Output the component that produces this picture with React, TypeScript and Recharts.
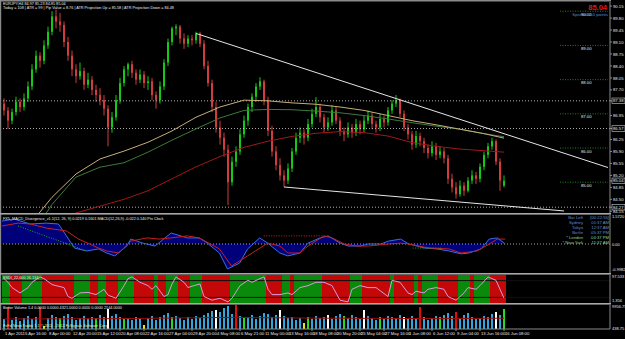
import React from 'react';
import { ComposedChart, Bar, Line, Area, XAxis, YAxis, ReferenceLine, Cell } from 'recharts';

// ---------------- DATA ----------------
const opens = [87.30,87.10,86.80,87.05,87.35,87.20,87.45,87.80,88.30,88.70,88.55,89.00,89.40,89.85,89.70,89.60,89.10,88.70,88.30,88.10,88.25,87.85,88.00,87.70,87.55,87.40,87.15,86.60,86.90,87.40,87.90,88.30,88.45,88.20,88.00,88.15,87.90,87.95,87.55,87.40,87.80,88.50,89.10,89.50,89.55,89.20,89.05,89.20,89.15,89.35,89.05,88.40,87.90,87.20,86.60,86.30,85.95,85.00,85.60,85.90,86.40,86.80,87.20,87.50,87.80,87.95,87.40,86.50,85.90,85.50,85.20,85.05,85.40,85.90,86.30,86.45,86.30,86.70,87.00,87.20,86.90,86.60,86.75,87.10,86.80,86.50,86.40,86.60,86.45,86.70,86.55,86.80,86.95,86.70,86.60,86.85,86.75,87.10,87.30,87.40,87.00,86.60,86.40,86.10,86.35,86.20,86.00,85.85,86.05,85.80,85.90,85.70,85.10,84.85,84.65,84.90,84.75,85.05,85.20,85.10,85.45,85.80,86.05,86.20,85.60,84.90];
const highs = [87.45,87.20,87.15,87.50,87.45,87.60,87.95,88.45,88.85,88.80,89.15,89.55,90.00,90.05,89.95,89.70,89.25,88.85,88.45,88.50,88.35,88.20,88.10,87.85,87.75,87.55,87.25,87.05,87.55,88.05,88.40,88.50,88.55,88.30,88.30,88.25,88.10,88.05,87.65,87.95,88.60,89.20,89.55,89.62,89.60,89.35,89.30,89.30,89.40,89.40,89.15,88.55,88.00,87.35,86.80,86.45,86.10,85.75,86.05,86.55,86.95,87.30,87.60,87.90,88.07,88.00,87.50,86.65,86.05,85.70,85.35,85.55,86.00,86.45,86.60,86.55,86.85,87.15,87.49,87.30,87.00,86.90,87.25,87.20,86.90,86.60,86.75,86.70,86.85,86.80,86.95,87.10,87.05,86.80,87.00,86.95,87.20,87.40,87.55,87.45,87.10,86.70,86.50,86.50,86.45,86.30,86.10,86.20,86.15,86.05,86.00,85.80,85.25,85.00,85.05,85.00,85.15,85.35,85.30,85.55,85.90,86.15,86.30,86.25,85.70,85.20];
const lows = [86.95,86.55,86.70,86.95,87.05,87.10,87.35,87.70,88.20,88.35,88.45,88.90,89.30,89.50,89.40,88.95,88.55,88.10,87.90,88.00,87.70,87.75,87.55,87.35,87.25,86.95,86.05,86.45,86.80,87.30,87.80,88.10,88.05,87.85,87.90,87.75,87.70,87.40,87.15,87.30,87.70,88.40,89.00,89.30,89.05,88.90,88.95,89.00,89.05,88.95,88.30,87.80,87.05,86.45,86.10,85.75,84.33,84.90,85.45,85.80,86.30,86.65,87.05,87.35,87.70,87.25,86.35,85.75,85.35,85.05,84.86,84.95,85.30,85.80,86.15,86.10,86.20,86.60,86.90,86.75,86.45,86.50,86.65,86.70,86.35,86.20,86.30,86.30,86.35,86.40,86.45,86.70,86.55,86.45,86.50,86.60,86.65,87.00,87.20,86.90,86.50,86.25,85.95,86.00,86.05,85.85,85.70,85.75,85.65,85.70,85.55,84.95,84.70,84.52,84.58,84.60,84.70,84.95,84.95,85.00,85.35,85.70,85.95,85.50,84.75,84.85];
const closes = [87.10,86.80,87.05,87.35,87.20,87.45,87.80,88.30,88.70,88.55,89.00,89.40,89.85,89.70,89.60,89.10,88.70,88.30,88.10,88.25,87.85,88.00,87.70,87.55,87.40,87.15,86.60,86.90,87.40,87.90,88.30,88.45,88.20,88.00,88.15,87.90,87.95,87.55,87.40,87.80,88.50,89.10,89.50,89.55,89.20,89.05,89.20,89.15,89.35,89.05,88.40,87.90,87.20,86.60,86.30,85.95,85.00,85.60,85.90,86.40,86.80,87.20,87.50,87.80,87.95,87.40,86.50,85.90,85.50,85.20,85.05,85.40,85.90,86.30,86.45,86.30,86.70,87.00,87.20,86.90,86.60,86.75,87.10,86.80,86.50,86.40,86.60,86.45,86.70,86.55,86.80,86.95,86.70,86.60,86.85,86.75,87.10,87.30,87.40,87.00,86.60,86.40,86.10,86.35,86.20,86.00,85.85,86.05,85.80,85.90,85.70,85.10,84.85,84.65,84.90,84.75,85.05,85.20,85.10,85.45,85.80,86.05,86.20,85.60,85.05,85.04];

// moving averages, read at sampled bars
const maIdx = [0,6,12,18,24,30,36,42,48,54,60,66,72,78,84,90,96,102,108,114,120,125];
const maTan = [82.9,83.7,84.56,85.24,85.68,85.91,86.17,86.50,86.90,87.20,87.40,87.38,87.32,87.28,87.20,87.10,86.95,86.80,86.68,86.55,86.42,86.29];
const maGreen = [82.3,83.3,84.35,85.15,85.44,85.57,85.88,86.23,86.56,86.88,87.10,87.13,87.12,87.08,87.03,86.95,86.85,86.74,86.64,86.55,86.42,86.33];
const maRed = [83.5,83.7,83.9,84.1,84.30,84.50,84.75,85.10,85.45,85.75,86.02,86.20,86.34,86.43,86.48,86.45,86.35,86.16,86.05,85.97,85.92,85.88];

// trend lines (bar index, price)
const tlUpIdx = [48,151];
const tlUpVals = [89.35,85.43];
const tlLowIdx = [70,140];
const tlLowVals = [84.86,84.16];

const priceTicks = [90.15,89.80,89.45,89.10,88.75,88.40,88.05,87.70,87.38,86.95,86.57,86.25,85.90,85.55,85.20,85.04,84.85,84.50,84.27,84.15];
const boxedTicks = [87.38,86.57,85.04,84.27];
const dottedLevels = [87.38,86.57,84.27];
const roundLevels = [90,89,88,87,86,85];
const roundLabels = ['90.00','89.00','88.00','87.00','86.00','85.00'];

// MACD
const macdIdx = [0,3,7,11,14,16,18,21,24,26,28,31,32,35,38,42,46,49,51,54,56,59,61,64,66,69,71,74,76,79,81,84,86,89,91,94,96,99,101,105,108,111,114,116,119,121,123,125];
const macdVals = [0.79,0.86,0.69,0.72,0.69,0.28,-0.14,-0.24,-0.17,-0.31,-0.41,-0.07,0.17,0.03,-0.07,0.38,0.21,0.21,0.03,-0.31,-0.86,-0.66,-0.17,0.21,0.03,-0.31,-0.41,-0.31,0.03,0.21,0.28,0.03,-0.07,-0.07,0,0,0.10,0.17,0,-0.14,-0.17,-0.24,-0.34,-0.31,-0.17,0.17,0.21,0.0];
const sigIdx = [0,4,7,11,16,19,24,26,29,32,36,39,42,46,49,54,57,61,66,69,71,74,76,80,82,85,88,91,96,99,101,106,111,114,118,121,123,125];
const sigVals = [0.62,0.72,0.69,0.55,0.45,0.17,-0.14,-0.24,-0.31,0.10,0.21,0.17,0.21,0.28,0.21,-0.17,-0.76,-0.41,0.03,-0.07,-0.31,-0.31,-0.07,0.28,0.21,0,-0.07,-0.07,0,0.03,0,-0.14,-0.17,-0.31,-0.24,0,0.17,0.17];
const divGreenIdx = [4,21];
const divGreenVals = [0.62,-0.24];
const divRedIdx = [65,80];
const divRedVals = [0.28,0.28];
const divGreen2Idx = [102,109];
const divGreen2Vals = [-0.14,-0.14];

// Stochastic
const stIdx = [0,1,2,4,6,7,9,10,12,13,15,16,17,19,21,23,25,26,28,30,31,32,34,36,37,38,40,41,42,43,45,46,47,49,50,52,54,56,57,59,61,62,64,65,66,67,69,71,72,74,76,78,80,82,84,86,87,89,91,93,96,97,99,101,102,103,105,106,108,110,111,113,115,116,118,119,121,123,125];
const stVals = [87,74,55,36,55,74,93,87,66,62,55,23,17,36,38,30,49,28,17,62,87,93,74,62,49,62,23,30,68,93,74,55,60,68,23,10,17,4,17,62,81,74,87,93,49,30,30,36,30,55,62,74,74,62,10,4,49,62,55,55,23,81,74,36,30,42,36,49,55,49,23,10,36,55,49,62,93,81,17];
const bandStart = [0,2,5,10,18,22,24,26,29,33,38,39,41,44,47,50,57,66,70,72,73,80,87,90,97,98,103,104,105,109,114,117,118,122];
const bandColor = ['g','r','g','r','g','r','g','r','g','r','g','r','g','r','g','r','g','r','g','r','g','r','g','r','g','r','g','r','g','r','g','r','g','r'];

// Volume
const volumes = [2500,5500,2250,3000,2000,2750,3250,2500,3000,5500,
  750,2750,3500,3000,2750,3250,3750,3000,2250,2750,
  3250,2500,3000,2750,3500,3000,5000,3250,3750,3000,
  2500,2750,2250,3000,2500,1000,2750,3250,2250,3000,
  3500,4000,3000,3250,2750,2250,3000,2500,3250,2750,
  3500,4000,4500,4750,4250,5250,5750,3750,6000,3250,
  2750,3000,3500,2500,3250,4000,3750,3000,3500,4750,
  3250,2750,3000,2250,2750,1500,3000,2500,3250,2750,
  3000,3500,2500,3250,3750,3250,2750,3500,3000,2500,
  4750,3250,2750,2250,3000,2500,3250,3000,2750,3500,
  3000,2500,3250,2750,5500,3000,2250,2750,3250,3000,
  3500,4000,3250,4250,2750,3500,4000,3000,2500,2750,
  3250,3000,3750,4250,3500,5000];
const volRed = [1,9,58,104,113];
const volWhite = [26,53,69,81,90,100,123];
const volGreen = [14,23,30,42,60,76,85,94,109,125];
const volYellow = [10,35,75];
const volAvgIdx = [0,30,56,80,110,125];
const volAvgVals = [2500,2600,2900,2700,2600,2700];

// time axis
const timeTickIdx = [0,5,11,17,23,29,35,41,47,53,59,65,71,77,83,89,95,101,107,113,119,125];
const timeTickLabels = ['1 Apr 2011','5 Apr 16:00','8 Apr 00:00','12 Apr 20:00','15 Apr 12:00','20 Apr 08:00','22 Apr 16:00','27 Apr 04:00','29 Apr 20:00','4 May 08:00','6 May 21:00','11 May 00:00','13 May 16:00','18 May 08:00','20 May 20:00','25 May 04:00','27 May 16:00','1 Jun 08:00','6 Jun 12:00','9 Jun 04:00','13 Jun 16:00','16 Jun 08:00'];

// ---------------- TABLE ----------------
const SHIFT = 26;
const N = closes.length;
const TOTAL = N + SHIFT;

function sparse(idx: number[], vals: number[]) {
  const out: (number | null)[] = new Array(TOTAL).fill(null);
  idx.forEach((k, j) => { out[k] = vals[j]; });
  return out;
}
const tanS = sparse(maIdx, maTan);
const greenS = sparse(maIdx, maGreen);
const redS = sparse(maIdx, maRed);
const tlUpS = sparse(tlUpIdx, tlUpVals);
const tlLowS = sparse(tlLowIdx, tlLowVals);
const macdS = sparse(macdIdx, macdVals);
const sigS = sparse(sigIdx, sigVals);
const dgS = sparse(divGreenIdx, divGreenVals);
const drS = sparse(divRedIdx, divRedVals);
const dg2S = sparse(divGreen2Idx, divGreen2Vals);
const stS = sparse(stIdx, stVals);
const avgS = sparse(volAvgIdx, volAvgVals);

function bandOf(i: number) {
  if (i >= N) return null;
  let c = null as string | null;
  for (let j = 0; j < bandStart.length; j++) if (i >= bandStart[j]) c = bandColor[j];
  return c;
}
function volColor(i: number) {
  if (volRed.includes(i)) return '#e01010';
  if (volWhite.includes(i)) return '#ffffff';
  if (volGreen.includes(i)) return '#22dd22';
  if (volYellow.includes(i)) return '#e8e800';
  return '#2ea6de';
}

const rows = Array.from({ length: TOTAL }, (_, i) => ({
  i,
  o: i < N ? opens[i] : null,
  h: i < N ? highs[i] : null,
  l: i < N ? lows[i] : null,
  c: i < N ? closes[i] : null,
  range: i < N ? [lows[i], highs[i]] : null,
  tan: tanS[i], grn: greenS[i], red: redS[i],
  tlUp: tlUpS[i], tlLow: tlLowS[i],
  macd: macdS[i], sig: sigS[i], dg: dgS[i], dr: drS[i], dg2: dg2S[i],
  st: stS[i], band: i < N ? 100 : null,
  vol: i < N ? volumes[i] : null, avg: avgS[i],
}));

// ---------------- STYLE ----------------
const FONT = 'Liberation Sans, Arial, sans-serif';
const GRID = '#8a8a8a';
const UP = '#14c814';
const DOWN = '#d23c3c';
const MARGIN = { top: 0, right: 1, left: 2, bottom: 0 };

const Candle = (props: any) => {
  const { x, y, width, height, payload } = props;
  if (!payload || payload.o == null || height == null) return <g />;
  const { o, h, l, c } = payload;
  const k = h - l > 0 ? height / (h - l) : 0;
  const yo = y + (h - o) * k;
  const yc = y + (h - c) * k;
  const col = c >= o ? UP : DOWN;
  const cx = x + width / 2;
  const top = Math.min(yo, yc);
  const bh = Math.max(Math.abs(yo - yc), 1);
  return (
    <g>
      <rect x={cx - 0.5} y={y} width={1} height={Math.max(height, 1)} fill={col} />
      <rect x={cx - 1} y={top} width={2} height={bh} fill={col} />
    </g>
  );
};

const PriceTick = (props: any) => {
  const { x, y, payload } = props;
  const v = payload.value as number;
  const boxed = boxedTicks.includes(v);
  return (
    <g>
      {boxed && <rect x={x - 1} y={y - 2.8} width={13} height={5.6} fill="#000" stroke="#d0d0d0" strokeWidth={0.6} />}
      <text x={x} y={y + 1.6} fontSize={4.2} fill="#e8e8e8" fontFamily={FONT}>{v.toFixed(2)}</text>
    </g>
  );
};

const TimeTick = (props: any) => {
  const { x, y, payload } = props;
  const k = timeTickIdx.indexOf(payload.value);
  return (
    <text x={x + 1} y={y + 4} fontSize={4.2} fill="#e8e8e8" fontFamily={FONT}>{timeTickLabels[k] ?? ''}</text>
  );
};

const levelLabel = (txt: string) => (p: any) => {
  const vb = p.viewBox || {};
  return <text x={(vb.x || 0) + 21} y={(vb.y || 0) + 4.5} fontSize={4.2} fill="#e8e8e8" fontFamily={FONT}>{txt}</text>;
};

const T = (p: { x: number; y: number; c?: string; s?: number; a?: any; w?: any; children: any }) => (
  <text x={p.x} y={p.y} fill={p.c || '#e8e8e8'} fontSize={p.s || 4.2} textAnchor={p.a || 'start'} fontWeight={p.w || 'normal'} fontFamily={FONT}>{p.children}</text>
);

export default function App() {
  const clockLabels = ['Bar Left', 'Sydney', 'Tokyo', 'Berlin', '* London', '* New York'];
  const clockValues = ['[00:22:55]', '01:37 AM', '12:37 AM', '05:37 PM', '04:37 PM', '11:37 AM'];
  return (
    <div style={{ position: 'absolute', left: 0, top: 0, width: 625, height: 339, background: '#000', overflow: 'hidden' }}>
      {/* main price panel */}
      <div style={{ position: 'absolute', left: 0, top: 2 }}>
        <ComposedChart width={625} height={211} data={rows} margin={MARGIN} barCategoryGap={0} barGap={0}>
          <XAxis dataKey="i" hide />
          <YAxis orientation="right" width={14} domain={[84.10, 90.27]} allowDataOverflow ticks={priceTicks} interval={0}
            tick={<PriceTick />} tickSize={2} tickMargin={1} tickLine={{ stroke: GRID }} axisLine={{ stroke: GRID }} />
          {dottedLevels.map((v) => (
            <ReferenceLine key={'d' + v} y={v} stroke="#d8d8d8" strokeDasharray="1 2" strokeWidth={0.8} />
          ))}
          {roundLevels.map((v, k) => (
            <ReferenceLine key={'r' + v} segment={[{ x: 139, y: v }, { x: 151, y: v }]} stroke="#2a9a2a" strokeDasharray="1 1.5" strokeWidth={0.8}
              label={levelLabel(roundLabels[k])} />
          ))}
          <Line dataKey="red" stroke="#a01818" strokeWidth={1} dot={false} connectNulls isAnimationActive={false} />
          <Line dataKey="grn" stroke="#3c7a3c" strokeWidth={1} dot={false} connectNulls isAnimationActive={false} />
          <Line dataKey="tan" stroke="#c8ad78" strokeWidth={1} dot={false} connectNulls isAnimationActive={false} />
          <Bar dataKey="range" shape={Candle} isAnimationActive={false} />
          <Line dataKey="tlUp" stroke="#e6e6e6" strokeWidth={1} dot={false} connectNulls isAnimationActive={false} />
          <Line dataKey="tlLow" stroke="#e6e6e6" strokeWidth={1} dot={false} connectNulls isAnimationActive={false} />
        </ComposedChart>
      </div>

      {/* MACD panel */}
      <div style={{ position: 'absolute', left: 0, top: 215 }}>
        <ComposedChart width={625} height={58} data={rows} margin={MARGIN} barCategoryGap={0} barGap={0}>
          <XAxis dataKey="i" hide />
          <YAxis orientation="right" width={14} domain={[-1, 1]} allowDataOverflow tick={false} tickLine={false} axisLine={{ stroke: GRID }} />
          <Area dataKey="macd" baseValue={0} fill="#00007a" fillOpacity={1} stroke="none" connectNulls isAnimationActive={false} />
          <ReferenceLine y={0} stroke="#c8c8c8" strokeDasharray="1 2" strokeWidth={0.8} />
          <Line dataKey="macd" stroke="#3a6ee0" strokeWidth={1} dot={false} connectNulls isAnimationActive={false} />
          <Line dataKey="sig" stroke="#c82020" strokeWidth={1} dot={false} connectNulls isAnimationActive={false} />
          <Line dataKey="dg" stroke="#18b018" strokeWidth={1} strokeDasharray="1 1.5" dot={false} connectNulls isAnimationActive={false} />
          <Line dataKey="dg2" stroke="#18b018" strokeWidth={1} strokeDasharray="1 1.5" dot={false} connectNulls isAnimationActive={false} />
          <Line dataKey="dr" stroke="#d02020" strokeWidth={1} strokeDasharray="1 1.5" dot={false} connectNulls isAnimationActive={false} />
        </ComposedChart>
      </div>

      {/* Stochastic panel */}
      <div style={{ position: 'absolute', left: 0, top: 275 }}>
        <ComposedChart width={625} height={28} data={rows} margin={MARGIN} barCategoryGap={0} barGap={0}>
          <XAxis dataKey="i" hide />
          <YAxis orientation="right" width={14} domain={[0, 100]} allowDataOverflow tick={false} tickLine={false} axisLine={{ stroke: GRID }} />
          <Bar dataKey="band" isAnimationActive={false}>
            {rows.map((r) => (
              <Cell key={r.i} fill={bandOf(r.i) === 'g' ? '#0a8a0a' : '#c40808'} />
            ))}
          </Bar>
          <ReferenceLine y={80} stroke="#101010" strokeWidth={1} />
          <ReferenceLine y={20} stroke="#101010" strokeWidth={1} />
          <Line dataKey="st" stroke="#d89ad8" strokeWidth={1} dot={false} connectNulls isAnimationActive={false} />
        </ComposedChart>
      </div>

      {/* Volume panel + time axis */}
      <div style={{ position: 'absolute', left: 0, top: 305 }}>
        <ComposedChart width={625} height={34} data={rows} margin={MARGIN} barCategoryGap={0} barGap={0}>
          <XAxis dataKey="i" ticks={timeTickIdx} interval={0} height={10} tick={<TimeTick />} tickSize={2} tickMargin={0}
            tickLine={{ stroke: GRID }} axisLine={{ stroke: GRID }} />
          <YAxis orientation="right" width={14} domain={[0, 6000]} allowDataOverflow tick={false} tickLine={false} axisLine={{ stroke: GRID }} />
          <Bar dataKey="vol" barSize={2} isAnimationActive={false}>
            {rows.map((r) => (
              <Cell key={r.i} fill={volColor(r.i)} />
            ))}
          </Bar>
          <Line dataKey="avg" stroke="#9a0c0c" strokeWidth={1} dot={false} connectNulls isAnimationActive={false} />
        </ComposedChart>
      </div>

      {/* frame + texts */}
      <svg width={625} height={339} style={{ position: 'absolute', left: 0, top: 0, pointerEvents: 'none' }}>
        <rect x={0} y={0} width={611} height={1.5} fill={GRID} />
        <rect x={0} y={0} width={1.2} height={330} fill={GRID} />
        <rect x={0} y={213} width={611} height={1.6} fill="#a8a8a8" />
        <rect x={0} y={273} width={611} height={1.6} fill="#a8a8a8" />
        <rect x={0} y={303} width={611} height={1.6} fill="#a8a8a8" />

        <T x={3} y={4.5} s={3.8}>EURJPY,H4  84.97 85.23 84.85 85.04</T>
        <T x={3} y={8.8} s={3.8}>Today = 108   |   ATR = 99   |   Pip Value = 8.76   |   ATR Projection Up = 85.58   |   ATR Projection Down = 84.48</T>
        <T x={607} y={10} s={7.5} c="#e01818" a="end" w="bold">85.04</T>
        <T x={608} y={16} s={4.4} c="#5f8fd0" a="end">Spread: 2.0 points</T>

        <T x={3} y={219.5} s={3.8}>FX5_MACD_Divergence_v1.1(12, 26, 9)  0.0219  0.1601   MACD(12,26,9) -0.022 0.140   Pts Clock</T>
        {clockLabels.map((s, k) => (
          <T key={s} x={583} y={219 + k * 5} s={4.2} a="end" c={k >= 4 ? '#8fd48f' : '#5f8fd0'}>{s}</T>
        ))}
        {clockValues.map((s, k) => (
          <T key={s + k} x={609} y={219 + k * 5} s={4.2} a="end" c={k >= 4 ? '#8fd48f' : '#5f8fd0'}>{s}</T>
        ))}
        <T x={612} y={218} s={4}>1.5720</T>
        <T x={612} y={245.5} s={4}>0.00</T>
        <T x={612} y={271} s={4}>-0.9982</T>

        <T x={3} y={279} s={3.8}>ESDI_22,000  26.134</T>
        <T x={612} y={278} s={4}>97.533</T>
        <T x={612} y={301.5} s={4}>1.356</T>

        <T x={3} y={308.5} s={3.8}>Better Volume 1.4  0.0000 0.0000 4321.0000 0.0000 0.0000 2144.0000</T>
        <T x={3} y={327} s={3.8} c="#e8e8a0">FxFd NewsTrader 1.1 © 2011 - 2012 FxSignals Software Corp.</T>
        <T x={612} y={308} s={4}>9956.75</T>
        <T x={612} y={330} s={4}>438.75</T>
      </svg>
    </div>
  );
}
